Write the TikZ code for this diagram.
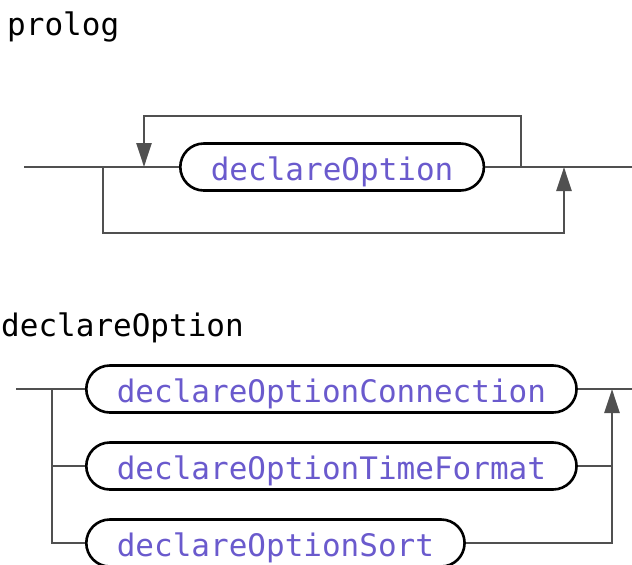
\documentclass[tikz,border=0pt]{standalone}
\usepackage{fontspec}
\setmonofont{DejaVu Sans Mono}
\usetikzlibrary{arrows.meta}
\definecolor{railgray}{RGB}{80,80,80}
\definecolor{termblue}{RGB}{106,90,205}

\begin{document}
\begin{tikzpicture}[x=1pt,y=-1pt,
  rail/.style={railgray,line width=2.5pt},
  railarrow/.style={rail,-{Triangle[length=24pt,width=15pt]}},
  term/.style={draw=black,line width=2.6pt,rounded corners=23.5pt,minimum height=47pt,
    inner xsep=30.5pt,text height=27pt,text depth=1pt,text=termblue,
    font=\ttfamily\fontsize{31}{37}\selectfont,anchor=west},
  rulename/.style={anchor=base west,inner sep=0pt,font=\ttfamily\fontsize{31}{37}\selectfont}]
  \useasboundingbox (0,0) rectangle (632,565);
  \node[rulename] (prolog) at (7,35) {prolog};
  \coordinate (pin) at (24,167);
  \coordinate (pout) at (632,167);
  \coordinate (skipL) at (103,167);
  \coordinate (skipR) at (564,167);
  \coordinate (loopL) at (144,167);
  \coordinate (loopR) at (521,167);
  \node[term] (decl) at (179,167) {declareOption};
  \draw[rail] (pin) -- (decl.west);
  \draw[rail] (decl.east) -- (pout);
  \draw[railarrow] (loopR) -- ++(0,-51) -| (loopL);
  \draw[railarrow] (skipL) -- ++(0,66) -| (skipR);
  \node[rulename] (declareOption) at (1,336) {declareOption};
  \coordinate (din) at (16,389);
  \coordinate (dout) at (632,389);
  \coordinate (split) at (52,389);
  \coordinate (join) at (612,389);
  \node[term] (conn) at (85,389) {declareOptionConnection};
  \node[term] (tfmt) at (85,466) {declareOptionTimeFormat};
  \node[term] (sort) at (85,543) {declareOptionSort};
  \draw[rail] (din) -- (conn.west);
  \draw[rail] (conn.east) -- (dout);
  \draw[rail] (split) |- (tfmt.west);
  \draw[rail] (split) |- (sort.west);
  \draw[rail] (tfmt.east) -- (tfmt.east -| join);
  \draw[railarrow] (sort.east) -| (join);
\end{tikzpicture}
\end{document}
